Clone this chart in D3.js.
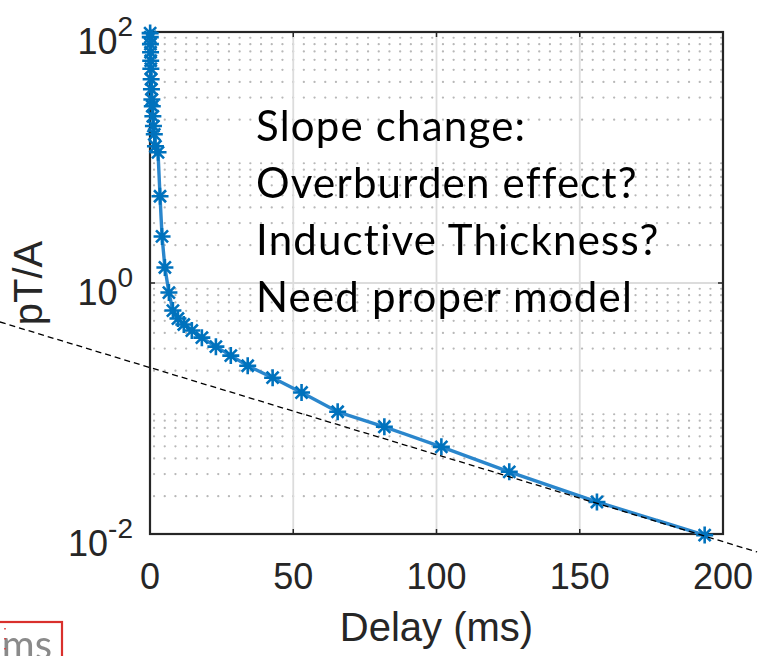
<!DOCTYPE html>
<html>
<head>
<meta charset="utf-8">
<script src="https://cdn.jsdelivr.net/npm/d3@7/dist/d3.min.js"></script>
<style>
  html, body { margin: 0; padding: 0; background: #ffffff; }
  svg { display: block; }
</style>
</head>
<body>
<svg id="chart" width="768" height="656"></svg>
<script>
// Decay curve: response (pT/A) versus delay time (ms)
const delayMs = [0.05, 0.10, 0.15, 0.20, 0.25, 0.30, 0.40, 0.50, 0.65, 0.80, 1.0, 1.2, 1.5, 1.9,
  2.8, 3.5, 4.2, 5.2, 6.6, 8.0, 9.75, 11.8, 14.6, 18.1, 23.0, 28.2, 34.1, 42.8, 52.9, 65.5,
  81.8, 101.7, 125.4, 156.0, 193.6];
const responsePtA = [98, 91, 80, 69, 59, 51, 42, 35, 29, 25.6, 21.3, 17.8, 15.3, 12.3,
  11.0, 4.91, 2.35, 1.33, 0.839, 0.603, 0.521, 0.467, 0.418, 0.367, 0.311, 0.264, 0.219, 0.176, 0.134, 0.0942,
  0.0715, 0.0495, 0.0313, 0.0180, 0.0098];

// Straight late-time trend (dashed), extending past the axes
const trendDelay = [-52.4, 211.9];
const trendValue = [0.489, 0.00719];

const xTicks = [0, 50, 100, 150, 200];
const yTickExp = [-2, 0, 2];
const noteLines = ["Slope change:", "Overburden effect?", "Inductive Thickness?", "Need proper model"];

const svg = d3.select("#chart");
const plot = { left: 150, right: 723, top: 32, bottom: 534 };

const x = d3.scaleLinear().domain([0, 200]).range([plot.left, plot.right]);
const y = d3.scaleLog().domain([0.01, 100]).range([plot.bottom, plot.top]);

const axisColor = "#262626";
const blue = "#0072BD";

const defs = svg.append("defs");
defs.append("filter").attr("id", "soft")
  .attr("x", "-5%").attr("y", "-5%").attr("width", "110%").attr("height", "110%")
  .append("feGaussianBlur").attr("stdDeviation", 0.7);

// Minor horizontal grid (dotted) at 2..9 x 10^k
const minorVals = [];
for (let k = -2; k < 2; k++) {
  for (let m = 2; m <= 9; m++) minorVals.push(m * Math.pow(10, k));
}
svg.append("g").selectAll("line").data(minorVals).join("line")
  .attr("x1", plot.left + 4).attr("x2", plot.right)
  .attr("y1", d => y(d)).attr("y2", d => y(d))
  .attr("stroke", "#b8b8b8").attr("stroke-width", 2.2)
  .attr("stroke-linecap", "round")
  .attr("stroke-dasharray", "0.1,10.6");

// Major grid
svg.append("g").selectAll("line").data([50, 100, 150]).join("line")
  .attr("x1", d => x(d)).attr("x2", d => x(d))
  .attr("y1", plot.top).attr("y2", plot.bottom)
  .attr("stroke", "#dcdcdc").attr("stroke-width", 1.8);
svg.append("line")
  .attr("x1", plot.left).attr("x2", plot.right)
  .attr("y1", y(1)).attr("y2", y(1))
  .attr("stroke", "#dcdcdc").attr("stroke-width", 1.8);

// Axes box and inward ticks
svg.append("rect")
  .attr("x", plot.left).attr("y", plot.top)
  .attr("width", plot.right - plot.left).attr("height", plot.bottom - plot.top)
  .attr("fill", "none").attr("stroke", axisColor).attr("stroke-width", 2.2);

const tickLen = 5;
const tg = svg.append("g").attr("stroke", axisColor).attr("stroke-width", 1.5);
xTicks.forEach(t => {
  tg.append("line").attr("x1", x(t)).attr("x2", x(t)).attr("y1", plot.bottom).attr("y2", plot.bottom - tickLen);
  tg.append("line").attr("x1", x(t)).attr("x2", x(t)).attr("y1", plot.top).attr("y2", plot.top + tickLen);
});
yTickExp.forEach(e => {
  const v = Math.pow(10, e);
  tg.append("line").attr("x1", plot.left).attr("x2", plot.left + tickLen).attr("y1", y(v)).attr("y2", y(v));
  tg.append("line").attr("x1", plot.right).attr("x2", plot.right - tickLen).attr("y1", y(v)).attr("y2", y(v));
});

// Tick labels
const tickFont = "'Liberation Sans', Arial, Helvetica, sans-serif";
svg.append("g").selectAll("text").data(xTicks).join("text")
  .attr("x", d => x(d)).attr("y", 589)
  .attr("text-anchor", "middle")
  .attr("font-family", tickFont).attr("font-size", 36)
  .attr("fill", axisColor)
  .text(d => d);

const yLab = svg.append("g").selectAll("text").data(yTickExp).join("text")
  .attr("x", 133).attr("y", d => y(Math.pow(10, d)) + 22)
  .attr("text-anchor", "end")
  .attr("font-family", tickFont)
  .attr("fill", axisColor);
yLab.append("tspan").attr("font-size", 36).text("10");
yLab.append("tspan").attr("font-size", 28).attr("dy", -18).text(d => String(d));

// Axis titles
svg.append("text")
  .attr("x", (plot.left + plot.right) / 2).attr("y", 641)
  .attr("text-anchor", "middle")
  .attr("font-family", tickFont).attr("font-size", 40)
  .attr("fill", axisColor)
  .text("Delay (ms)");
svg.append("text")
  .attr("transform", `translate(42, ${(plot.top + plot.bottom) / 2}) rotate(-90)`)
  .attr("text-anchor", "middle")
  .attr("font-family", tickFont).attr("font-size", 40)
  .attr("fill", axisColor)
  .text("pT/A");

// Data curve with asterisk markers
const pts = delayMs.map((d, i) => [d, responsePtA[i]]);
const marks = svg.append("g").attr("filter", "url(#soft)");
marks.append("path")
  .datum(pts)
  .attr("fill", "none")
  .attr("stroke", "#2a86cc").attr("stroke-width", 3.4)
  .attr("stroke-linejoin", "round")
  .attr("d", d3.line().x(d => x(d[0])).y(d => y(d[1])));

const r = 8.5, rd = r * 0.7071;
const star = `M${-r},0L${r},0M0,${-r}L0,${r}M${-rd},${-rd}L${rd},${rd}M${-rd},${rd}L${rd},${-rd}`;
marks.append("g").selectAll("path").data(pts).join("path")
  .attr("transform", d => `translate(${x(d[0])},${y(d[1])})`)
  .attr("d", star)
  .attr("fill", "none")
  .attr("stroke", blue).attr("stroke-width", 2.6);

// Dashed trend line
svg.append("line")
  .attr("x1", x(trendDelay[0])).attr("y1", y(trendValue[0]))
  .attr("x2", x(trendDelay[1])).attr("y2", y(trendValue[1]))
  .attr("stroke", "#000").attr("stroke-width", 1.3)
  .attr("stroke-dasharray", "6,4");

// Note text
svg.append("g").selectAll("text").data(noteLines).join("text")
  .attr("x", 256).attr("y", (d, i) => 141 + i * 57)
  .attr("font-family", "Lato, 'Open Sans', sans-serif").attr("font-size", 42)
  .attr("letter-spacing", 1.2)
  .attr("fill", "#000")
  .text(d => d);

// Clipped callout box at bottom-left
svg.append("rect")
  .attr("x", -10).attr("y", 622).attr("width", 72).attr("height", 60)
  .attr("fill", "none").attr("stroke", "#d9302c").attr("stroke-width", 2.2);
svg.append("text")
  .attr("x", 52).attr("y", 659)
  .attr("text-anchor", "end")
  .attr("font-family", "Lato, sans-serif").attr("font-size", 40)
  .attr("fill", "#8a8a8a")
  .text("ms");
svg.append("line")
  .attr("x1", 5).attr("x2", 5).attr("y1", 628).attr("y2", 656)
  .attr("stroke", "#e03030").attr("stroke-width", 1.5)
  .attr("stroke-dasharray", "1.5,8.5");
</script>
</body>
</html>
